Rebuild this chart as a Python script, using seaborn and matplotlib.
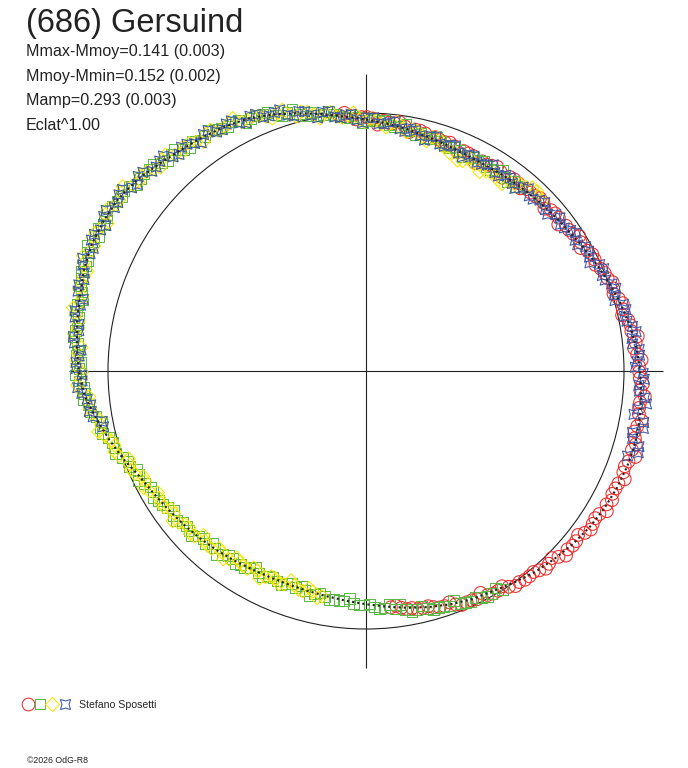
import numpy as np
import pandas as pd
import matplotlib
matplotlib.use("Agg")
import matplotlib.pyplot as plt
from matplotlib.lines import Line2D
from matplotlib.legend_handler import HandlerTuple
import seaborn as sns

# phase in degrees (clockwise from top), flux relative to the mean (r = flux^1)
# two nights per observer
red_phase = [354, 356.5, 359, 1.5, 4, 6.5, 9, 11.5, 14, 16.5, 19, 21.5, 24, 26.5, 29, 31.5,
             34, 36.5, 39, 41.5, 44, 46.5, 49, 51.5, 54, 56.5, 59, 61.5, 64, 66.5, 69, 71.5,
             74, 76.5, 79, 81.5, 84, 86.5, 89, 91.5, 94, 96.5, 99, 101.5, 104, 106.5, 109,
             111.5, 114, 116.5, 119, 121.5, 124, 126.5, 129, 131.5, 134, 136.5, 139, 141.5,
             144, 146.5, 149, 151.5, 154, 156.5, 159, 161.5, 164, 166.5, 169, 171.5, 174]
red_flux = [.995, .990, .984, .979, .972, .967, .960, .955, .949, .945, .938, .936, .933, .931,
            .929, .933, .932, .936, .937, .941, .943, .948, .950, .955, .958, .963, .970, .977,
            .986, .993, 1.003, 1.010, 1.019, 1.024, 1.035, 1.040, 1.051, 1.053, 1.058, 1.062,
            1.066, 1.069, 1.071, 1.073, 1.074, 1.075, 1.076, 1.072, 1.071, 1.067, 1.066, 1.061,
            1.060, 1.055, 1.048, 1.043, 1.037, 1.030, 1.024, 1.017, 1.011, 1.003, .994, .988,
            .984, .978, .969, .961, .952, .944, .936, .928, .921]
red_phase_2 = [355.2, 357.7, 0.2, 2.7, 5.2, 7.7, 10.2, 12.7, 15.2, 17.7, 20.2, 22.7, 25.2,
               27.7, 30.2, 32.7, 35.2, 37.7, 40.2, 42.7, 45.2, 47.7, 50.2, 52.7, 55.2, 57.7,
               60.2, 62.7, 65.2, 67.7, 70.2, 72.7, 75.2, 77.7, 80.2, 82.7, 85.2, 87.7, 90.2,
               92.7, 95.2, 97.7, 100.2, 102.7, 105.2, 107.7, 110.2, 112.7, 115.2, 117.7, 120.2,
               122.7, 125.2, 127.7, 130.2, 132.7, 135.2, 137.7, 140.2, 142.7, 145.2, 147.7,
               150.2, 152.7, 155.2, 157.7, 160.2, 162.7, 165.2, 167.7, 170.2, 172.7]
red_flux_2 = [1.004, .976, .984, .956, .966, .973, .941, .955, .934, .940, .943, .920, .932,
              .910, .926, .941, .917, .939, .927, .941, .951, .935, .954, .937, .958, .978,
              .959, .987, .980, 1.000, 1.016, 1.005, 1.029, 1.016, 1.041, 1.062, 1.043, 1.069,
              1.059, 1.074, 1.085, 1.068, 1.086, 1.067, 1.084, 1.096, 1.069, 1.087, 1.069,
              1.077, 1.080, 1.056, 1.066, 1.039, 1.049, 1.055, 1.022, 1.036, 1.014, 1.017,
              1.015, .987, .994, .968, .979, .980, .953, .960, .943, .945, .936, .918]

green_phase = [148, 150.5, 153, 155.5, 158, 160.5, 163, 165.5, 168, 170.5, 173, 175.5, 178,
               180.5, 183, 185.5, 188, 190.5, 193, 195.5, 198, 200.5, 203, 205.5, 208, 210.5,
               213, 215.5, 218, 220.5, 223, 225.5, 228, 230.5, 233, 235.5, 238, 240.5, 243,
               245.5, 248, 250.5, 253, 255.5, 258, 260.5, 263, 265.5, 268, 270.5, 273, 275.5,
               278, 280.5, 283, 285.5, 288, 290.5, 293, 295.5, 298, 300.5, 303, 305.5, 308,
               310.5, 313, 315.5, 318, 320.5, 323, 325.5, 328, 330.5, 333, 335.5, 338, 340.5,
               343, 345.5, 348, 350.5, 353, 355.5, 358, 0.5, 3, 5.5, 8, 10.5, 13, 15.5, 18,
               20.5, 23, 25.5, 28, 30.5, 33, 35.5, 38]
green_flux = [.998, .990, .985, .981, .972, .966, .960, .950, .945, .936, .929, .921, .915,
              .907, .903, .896, .893, .888, .887, .884, .883, .879, .884, .880, .887, .886,
              .894, .893, .903, .902, .913, .912, .923, .922, .934, .935, .947, .949, .963,
              .968, .990, 1.001, 1.021, 1.030, 1.053, 1.061, 1.085, 1.094, 1.112, 1.112,
              1.125, 1.123, 1.136, 1.134, 1.147, 1.145, 1.160, 1.161, 1.173, 1.168, 1.175,
              1.169, 1.174, 1.165, 1.165, 1.150, 1.147, 1.130, 1.128, 1.114, 1.115, 1.102,
              1.103, 1.090, 1.090, 1.075, 1.071, 1.053, 1.048, 1.029, 1.025, 1.007, 1.003,
              .985, .984, .972, .970, .958, .958, .946, .946, .934, .935, .926, .928, .921,
              .925, .920, .927, .923, .932]
green_phase_2 = [149.2, 151.7, 154.2, 156.7, 159.2, 161.7, 164.2, 166.7, 169.2, 171.7, 174.2,
                 176.7, 179.2, 181.7, 184.2, 186.7, 189.2, 191.7, 194.2, 196.7, 199.2, 201.7,
                 204.2, 206.7, 209.2, 211.7, 214.2, 216.7, 219.2, 221.7, 224.2, 226.7, 229.2,
                 231.7, 234.2, 236.7, 239.2, 241.7, 244.2, 246.7, 249.2, 251.7, 254.2, 256.7,
                 259.2, 261.7, 264.2, 266.7, 269.2, 271.7, 274.2, 276.7, 279.2, 281.7, 284.2,
                 286.7, 289.2, 291.7, 294.2, 296.7, 299.2, 301.7, 304.2, 306.7, 309.2, 311.7,
                 314.2, 316.7, 319.2, 321.7, 324.2, 326.7, 329.2, 331.7, 334.2, 336.7, 339.2,
                 341.7, 344.2, 346.7, 349.2, 351.7, 354.2, 356.7, 359.2, 1.7, 4.2, 6.7, 9.2,
                 11.7, 14.2, 16.7, 19.2, 21.7, 24.2, 26.7, 29.2, 31.7, 34.2, 36.7, 39.2]
green_flux_2 = [.979, .994, .974, .978, .951, .961, .960, .936, .950, .916, .911, .924, .903,
                .907, .883, .895, .897, .879, .898, .870, .872, .892, .879, .890, .873, .894,
                .904, .892, .918, .896, .904, .929, .919, .935, .921, .945, .958, .949, .980,
                .967, .987, 1.022, 1.022, 1.048, 1.044, 1.078, 1.100, 1.097, 1.127, 1.107,
                1.116, 1.141, 1.132, 1.147, 1.132, 1.156, 1.170, 1.160, 1.185, 1.161, 1.164,
                1.183, 1.167, 1.172, 1.145, 1.152, 1.148, 1.123, 1.135, 1.103, 1.100, 1.114,
                1.093, 1.096, 1.069, 1.077, 1.072, 1.044, 1.053, 1.016, 1.008, 1.016, .991,
                .992, .964, .976, .974, .952, .967, .935, .932, .947, .927, .934, .911, .926,
                .932, .917, .940, .916, .922]

yellow_phase = [191, 193.5, 196, 198.5, 201, 203.5, 206, 208.5, 211, 213.5, 216, 218.5, 221,
                223.5, 226, 228.5, 231, 233.5, 236, 238.5, 241, 243.5, 246, 248.5, 251, 253.5,
                256, 258.5, 261, 263.5, 266, 268.5, 271, 273.5, 276, 278.5, 281, 283.5, 286,
                288.5, 291, 293.5, 296, 298.5, 301, 303.5, 306, 308.5, 311, 313.5, 316, 318.5,
                321, 323.5, 326, 328.5, 331, 333.5, 336, 338.5, 341, 343.5, 346, 348.5, 351,
                353.5, 356, 358.5, 1, 3.5, 6, 8.5, 11, 13.5, 16, 18.5, 21, 23.5, 26, 28.5, 31,
                33.5, 36, 38.5, 41, 43.5, 46]
yellow_flux = [.890, .879, .888, .876, .886, .878, .889, .881, .894, .887, .902, .897, .912,
               .906, .922, .916, .933, .927, .944, .941, .960, .957, .980, .985, 1.012, 1.016,
               1.042, 1.047, 1.074, 1.080, 1.106, 1.104, 1.122, 1.117, 1.134, 1.128, 1.146,
               1.139, 1.158, 1.153, 1.172, 1.164, 1.179, 1.167, 1.178, 1.165, 1.174, 1.155,
               1.158, 1.136, 1.138, 1.118, 1.122, 1.105, 1.110, 1.093, 1.098, 1.079, 1.082,
               1.060, 1.059, 1.036, 1.036, 1.014, 1.013, .992, .993, .975, .978, .960, .966,
               .947, .953, .935, .942, .922, .905, .890, .918, .912, .903, .915, .897, .925,
               .945, .962, .950]
yellow_phase_2 = [192.2, 194.7, 197.2, 199.7, 202.2, 204.7, 207.2, 209.7, 212.2, 214.7, 217.2,
                  219.7, 222.2, 224.7, 227.2, 229.7, 232.2, 234.7, 237.2, 239.7, 242.2, 244.7,
                  247.2, 249.7, 252.2, 254.7, 257.2, 259.7, 262.2, 264.7, 267.2, 269.7, 272.2,
                  274.7, 277.2, 279.7, 282.2, 284.7, 287.2, 289.7, 292.2, 294.7, 297.2, 299.7,
                  302.2, 304.7, 307.2, 309.7, 312.2, 314.7, 317.2, 319.7, 322.2, 324.7, 327.2,
                  329.7, 332.2, 334.7, 337.2, 339.7, 342.2, 344.7, 347.2, 349.7, 352.2, 354.7,
                  357.2, 359.7, 2.2, 4.7, 7.2, 9.7, 12.2, 14.7, 17.2, 19.7, 22.2, 24.7, 27.2,
                  29.7, 32.2, 34.7, 37.2, 39.7, 42.2, 44.7]
yellow_flux_2 = [.900, .870, .887, .862, .892, .877, .904, .877, .893, .880, .915, .892, .914,
                 .895, .929, .919, .949, .925, .945, .934, .973, .955, .987, .980, 1.024, 1.023,
                 1.064, 1.050, 1.080, 1.078, 1.121, 1.101, 1.125, 1.106, 1.141, 1.131, 1.161,
                 1.136, 1.157, 1.147, 1.183, 1.159, 1.178, 1.154, 1.182, 1.164, 1.184, 1.146,
                 1.149, 1.121, 1.143, 1.107, 1.118, 1.089, 1.112, 1.090, 1.108, 1.071, 1.073,
                 1.044, 1.063, 1.023, 1.030, .995, 1.013, .986, 1.003, .966, .972, .948, .973,
                 .939, .951, .921, .945, .924, .916, .896, .905, .888, .908, .900, .922, .940,
                 .960, .952]

blue_phase = [258, 260.5, 263, 265.5, 268, 270.5, 273, 275.5, 278, 280.5, 283, 285.5, 288,
              290.5, 293, 295.5, 298, 300.5, 303, 305.5, 308, 310.5, 313, 315.5, 318, 320.5,
              323, 325.5, 328, 330.5, 333, 335.5, 338, 340.5, 343, 345.5, 348, 350.5, 353,
              355.5, 358, 0.5, 3, 5.5, 8, 10.5, 13, 15.5, 18, 20.5, 23, 25.5, 28, 30.5, 33,
              35.5, 38, 40.5, 43, 45.5, 48, 50.5, 53, 55.5, 58, 60.5, 63, 65.5, 68, 70.5, 73,
              75.5, 78, 80.5, 83, 85.5, 88, 90.5, 93, 95.5, 98, 100.5, 103, 105.5, 108]
blue_flux = [1.040, 1.072, 1.075, 1.105, 1.101, 1.124, 1.113, 1.135, 1.124, 1.147, 1.136,
             1.158, 1.149, 1.172, 1.162, 1.179, 1.165, 1.180, 1.163, 1.176, 1.153, 1.161,
             1.135, 1.141, 1.117, 1.124, 1.104, 1.112, 1.092, 1.100, 1.079, 1.085, 1.060,
             1.063, 1.037, 1.039, 1.014, 1.017, .992, .995, .974, .981, .960, .968, .948,
             .956, .936, .944, .925, .935, .918, .929, .916, .928, .917, .932, .922, .938,
             .928, .945, .935, .953, .944, .962, .956, .978, .972, .995, .988, 1.012, 1.006,
             1.030, 1.023, 1.047, 1.039, 1.062, 1.052, 1.074, 1.060, 1.085, 1.064, 1.095,
             1.060, 1.098, 1.066]
blue_phase_2 = [259.2, 261.7, 264.2, 266.7, 269.2, 271.7, 274.2, 276.7, 279.2, 281.7, 284.2,
                286.7, 289.2, 291.7, 294.2, 296.7, 299.2, 301.7, 304.2, 306.7, 309.2, 311.7,
                314.2, 316.7, 319.2, 321.7, 324.2, 326.7, 329.2, 331.7, 334.2, 336.7, 339.2,
                341.7, 344.2, 346.7, 349.2, 351.7, 354.2, 356.7, 359.2, 1.7, 4.2, 6.7, 9.2,
                11.7, 14.2, 16.7, 19.2, 21.7, 24.2, 26.7, 29.2, 31.7, 34.2, 36.7, 39.2, 41.7,
                44.2, 46.7, 49.2, 51.7, 54.2, 56.7, 59.2, 61.7, 64.2, 66.7, 69.2, 71.7, 74.2,
                76.7, 79.2, 81.7, 84.2, 86.7, 89.2, 91.7, 94.2, 96.7, 99.2, 101.7, 104.2, 106.7]
blue_flux_2 = [1.043, 1.084, 1.086, 1.119, 1.101, 1.124, 1.107, 1.142, 1.128, 1.152, 1.131,
               1.162, 1.156, 1.182, 1.159, 1.178, 1.155, 1.184, 1.163, 1.177, 1.144, 1.158,
               1.134, 1.145, 1.109, 1.120, 1.091, 1.115, 1.089, 1.101, 1.068, 1.083, 1.058,
               1.066, 1.027, 1.033, .999, 1.017, .987, .997, .963, .982, .960, .974, .941,
               .952, .923, .948, .923, .939, .910, .932, .918, .939, .914, .933, .913, .946,
               .929, .952, .930, .958, .948, .975, .955, .980, .964, 1.003, .992, 1.020,
               1.003, 1.035, 1.030, 1.058, 1.039, 1.062, 1.044, 1.079, 1.063, 1.095, 1.052,
               1.098, 1.066, 1.102]

# Fourier fit curve
fit_phase = [0, 5, 10, 15, 20, 25, 30, 35, 40, 45, 50, 55, 60, 65, 70, 75, 80, 85, 90, 95,
             100, 105, 110, 115, 120, 125, 130, 135, 140, 145, 150, 155, 160, 165, 170, 175,
             180, 185, 190, 195, 200, 205, 210, 215, 220, 225, 230, 235, 240, 245, 250, 255,
             260, 265, 270, 275, 280, 285, 290, 295, 300, 305, 310, 315, 320, 325, 330, 335,
             340, 345, 350, 355, 360]
fit_flux = [.975, .962, .950, .938, .929, .923, .922, .926, .931, .937, .945, .954, .968,
            .984, 1.002, 1.020, 1.037, 1.052, 1.063, 1.071, 1.077, 1.080, 1.078, 1.073, 1.066,
            1.057, 1.045, 1.031, 1.018, 1.001, .985, .975, .962, .947, .932, .917, .904, .894,
            .886, .882, .880, .882, .887, .895, .904, .914, .924, .936, .950, .968, 1.000,
            1.030, 1.062, 1.095, 1.114, 1.125, 1.137, 1.147, 1.163, 1.171, 1.172, 1.169,
            1.155, 1.135, 1.118, 1.106, 1.094, 1.080, 1.058, 1.034, 1.012, .990, .975]

title = "(686) Gersuind"
stats = ["Mmax-Mmoy=0.141 (0.003)", "Mmoy-Mmin=0.152 (0.002)", "Mamp=0.293 (0.003)",
         "Eclat^1.00"]
observer = "Stefano Sposetti"
credit = "\u00a92026 OdG-R8"

sns.set_style("white")
plt.rcParams['font.family'] = ['Liberation Sans', 'DejaVu Sans']

W, H = 688, 768
CX, CY, R = 366, 371, 258
CROSS = 1.152
INK = "#222222"


def to_xy(phase, flux):
    th = np.deg2rad(np.asarray(phase, dtype=float))
    r = np.asarray(flux, dtype=float)
    return r * np.sin(th), r * np.cos(th)


series = [
    ("red", red_phase + red_phase_2, red_flux + red_flux_2, "o", 84, "#ee2b2b"),
    ("green", green_phase + green_phase_2, green_flux + green_flux_2, "s", 60, "#5cb848"),
    ("yellow", yellow_phase + yellow_phase_2, yellow_flux + yellow_flux_2, "D", 46, "#f7e600"),
    ("blue", blue_phase + blue_phase_2, blue_flux + blue_flux_2, (4, 1, 45), 105, "#3a58a8"),
]

frames = []
for name, ph, fl, *_ in series:
    x, y = to_xy(ph, fl)
    frames.append(pd.DataFrame({"obs": name, "x": x, "y": y}))
df = pd.concat(frames, ignore_index=True)

fig = plt.figure(figsize=(W / 100, H / 100), dpi=100)
ax = fig.add_axes([0, 0, 1, 1])
ax.set_xlim(-CX / R, (W - CX) / R)
ax.set_ylim((CY - H) / R, CY / R)
ax.set_axis_off()

# axes cross and mean circle
ax.hlines(0, -CROSS, CROSS, color=INK, lw=0.8, zorder=1)
ax.vlines(0, -CROSS, CROSS, color=INK, lw=0.8, zorder=1)
ax.add_patch(plt.Circle((0, 0), 1.0, fill=False, color=INK, lw=0.8, zorder=1))

handles = []
for name, ph, fl, mk, s, col in series:
    sns.scatterplot(data=df[df["obs"] == name], x="x", y="y", marker=mk, s=s,
                    facecolor="none", edgecolor=col, linewidth=0.75, ax=ax,
                    legend=False, zorder=3)
    handles.append(Line2D([], [], ls="none", marker=mk, ms=np.sqrt(s), mfc="none",
                          mec=col, mew=0.75))

fx, fy = to_xy(fit_phase, fit_flux)
sns.lineplot(x=fx, y=fy, sort=False, color=INK, lw=1.5, linestyle=(0, (1, 1.5)),
             ax=ax, zorder=4)

fig.text(26 / W, 1 - 32 / H, title, fontsize=23.5, color=INK, va="baseline")
for i, line in enumerate(stats):
    fig.text(26 / W, 1 - (56 + 24.7 * i) / H, line, fontsize=11.6, color=INK, va="baseline")

fig.legend(handles=[tuple(handles)], labels=[observer],
           handler_map={tuple: HandlerTuple(ndivide=None, pad=0.1)},
           loc="center left", bbox_to_anchor=(22 / W, 1 - 705 / H), frameon=False,
           fontsize=7.6, handlelength=4.6, handletextpad=0.8, borderpad=0, borderaxespad=0)
fig.text(27 / W, 1 - 763 / H, credit, fontsize=6.3, color=INK, va="baseline")

fig.savefig("out.png", dpi=100)
